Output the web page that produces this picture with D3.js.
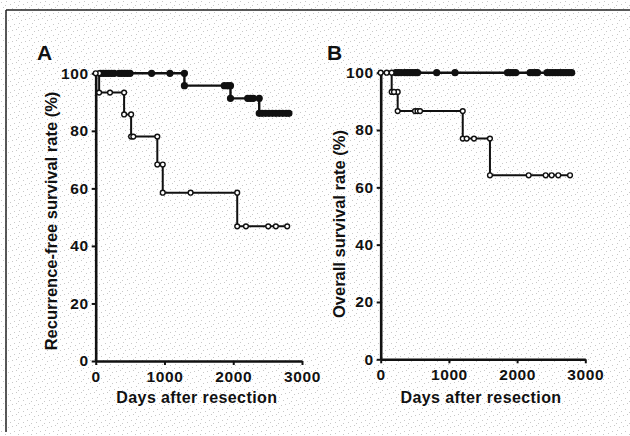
<!DOCTYPE html>
<html>
<head>
<meta charset="utf-8">
<script src="https://cdn.jsdelivr.net/npm/d3@7"></script>
<style>
  body { margin: 0; background: #fff; }
  svg text { font-family: "Liberation Sans", Arial, sans-serif; font-weight: bold; fill: #111; }
</style>
</head>
<body>
<div id="chart"></div>
<script>
// tick values
const dayTicks = [0, 1000, 2000, 3000];
const rateTicks = [0, 20, 40, 60, 80, 100];

// Panel A - recurrence-free survival, open circles group
const rfsOpenEventDays = [50, 413, 515, 896, 975, 2058];
const rfsOpenLevels = [93.3, 85.7, 78.0, 68.3, 58.5, 46.8];
const rfsOpenCensorDays = [0, 208, 547, 1380, 2185, 2509, 2620, 2785];

// Panel A - filled circles group
const rfsFilledEventDays = [1290, 1960, 2378];
const rfsFilledLevels = [95.7, 91.3, 86.1];
const rfsFilledCensorDays = [70, 110, 150, 190, 230, 270, 340, 380, 420, 460, 500, 813, 1080,
  1870, 1920, 2210, 2250, 2290, 2420, 2470, 2520, 2570, 2620, 2670, 2720, 2770, 2810];

// Panel B - overall survival, open circles group
const osOpenEventDays = [161, 249, 1203, 1602];
const osOpenLevels = [93.3, 86.6, 77.0, 64.2];
const osOpenCensorDays = [0, 88, 195, 503, 540, 577, 1261, 1368, 2170, 2419, 2507, 2604, 2776];

// Panel B - filled circles group (no events)
const osFilledEventDays = [];
const osFilledLevels = [];
const osFilledCensorDays = [220, 260, 300, 350, 390, 430, 470, 510, 540, 821, 1090,
  1860, 1900, 1940, 1980, 2190, 2230, 2270, 2300, 2440, 2480, 2520, 2560, 2600, 2640,
  2680, 2720, 2760, 2800];

const W = 630, H = 436;

const svg = d3.select("#chart").append("svg")
    .attr("width", W)
    .attr("height", H);

// scanned paper speckle
const pat = svg.append("defs").append("pattern")
    .attr("id", "speckle")
    .attr("width", 13).attr("height", 11)
    .attr("patternUnits", "userSpaceOnUse");
[[1, 2], [6, 1], [10, 4], [3, 7], [8, 9], [12, 8], [5, 5]].forEach(p => {
  pat.append("rect").attr("x", p[0]).attr("y", p[1])
    .attr("width", 1).attr("height", 1).attr("fill", "#c8c8c8");
});
svg.append("rect").attr("width", W).attr("height", H).attr("fill", "url(#speckle)");

// frame
svg.append("line").attr("x1", 6).attr("x2", W).attr("y1", 10).attr("y2", 10)
    .attr("stroke", "#222").attr("stroke-width", 1.5);
svg.append("line").attr("x1", 6).attr("x2", 6).attr("y1", 10).attr("y2", 432)
    .attr("stroke", "#222").attr("stroke-width", 1.5);

function stepValue(day, events, levels) {
  let v = 100;
  events.forEach((e, i) => { if (day >= e) v = levels[i]; });
  return v;
}

function drawCurve(g, x, y, events, levels, censors, filled) {
  const endDay = d3.max(censors.concat(events));
  const pts = [[0, 100]];
  events.forEach((e, i) => pts.push([e, levels[i]]));
  pts.push([endDay, levels.length ? levels[levels.length - 1] : 100]);

  const line = d3.line()
      .x(d => x(d[0]))
      .y(d => y(d[1]))
      .curve(d3.curveStepAfter);

  g.append("path")
      .attr("d", line(pts))
      .attr("fill", "none")
      .attr("stroke", "#111")
      .attr("stroke-width", filled ? 2.4 : 2);

  // marks at both corners of each drop, plus censored points
  const marks = [];
  events.forEach((e, i) => {
    marks.push([e, i === 0 ? 100 : levels[i - 1]]);
    marks.push([e, levels[i]]);
  });
  censors.forEach(d => marks.push([d, stepValue(d, events, levels)]));

  g.selectAll(null)
    .data(marks)
    .enter().append("circle")
      .attr("cx", d => x(d[0]))
      .attr("cy", d => y(d[1]))
      .attr("r", filled ? 2.9 : 2.4)
      .attr("fill", filled ? "#111" : "#fff")
      .attr("stroke", "#111")
      .attr("stroke-width", 1.4);
}

function drawPanel(p) {
  const x = d3.scaleLinear().domain([0, 3000]).range([p.x0, p.x1]);
  const y = d3.scaleLinear().domain([0, 100]).range([p.y0, p.y1]);
  const g = svg.append("g");

  // Y axis
  const ya = g.append("g")
      .attr("transform", `translate(${p.x0},0)`)
      .call(d3.axisLeft(y).tickValues(rateTicks).tickFormat(d3.format("d"))
        .tickSize(4).tickSizeOuter(0).tickPadding(3));
  // X axis
  const xa = g.append("g")
      .attr("transform", `translate(0,${p.y0})`)
      .call(d3.axisBottom(x).tickValues(dayTicks).tickFormat(d3.format("d"))
        .tickSize(4).tickSizeOuter(0).tickPadding(6));

  [ya, xa].forEach(a => {
    a.attr("font-family", null).attr("font-size", null);
    a.select(".domain").attr("stroke", "#111").attr("stroke-width", 2.6);
    a.selectAll(".tick line").attr("stroke", "#111").attr("stroke-width", 2);
    a.selectAll(".tick text")
      .attr("fill", "#111")
      .style("font-size", "15.5px")
      .style("font-weight", "700")
      .style("letter-spacing", "0.6px");
  });

  drawCurve(g, x, y, p.filled.events, p.filled.levels, p.filled.censors, true);
  drawCurve(g, x, y, p.open.events, p.open.levels, p.open.censors, false);

  // panel letter
  g.append("text")
      .attr("x", p.letterX).attr("y", 60)
      .style("font-size", "21px")
      .text(p.letter);

  // axis titles
  g.append("text")
      .attr("x", (p.x0 + p.x1) / 2 - 2).attr("y", 403)
      .attr("text-anchor", "middle")
      .style("font-size", "16px")
      .style("letter-spacing", "0.4px")
      .text("Days after resection");

  g.append("text")
      .attr("transform", `translate(${p.ylabX},${p.ylabY}) rotate(-90)`)
      .attr("text-anchor", "middle")
      .style("font-size", "16.5px")
      .text(p.ylabel);
}

drawPanel({
  x0: 95.7, x1: 302, y0: 361, y1: 73.3,
  letter: "A", letterX: 37,
  ylabel: "Recurrence-free survival rate (%)", ylabX: 57, ylabY: 221,
  open: { events: rfsOpenEventDays, levels: rfsOpenLevels, censors: rfsOpenCensorDays },
  filled: { events: rfsFilledEventDays, levels: rfsFilledLevels, censors: rfsFilledCensorDays }
});

drawPanel({
  x0: 380.7, x1: 585.3, y0: 359.3, y1: 72.7,
  letter: "B", letterX: 327,
  ylabel: "Overall survival rate (%)", ylabX: 345, ylabY: 224,
  open: { events: osOpenEventDays, levels: osOpenLevels, censors: osOpenCensorDays },
  filled: { events: osFilledEventDays, levels: osFilledLevels, censors: osFilledCensorDays }
});
</script>
</body>
</html>
